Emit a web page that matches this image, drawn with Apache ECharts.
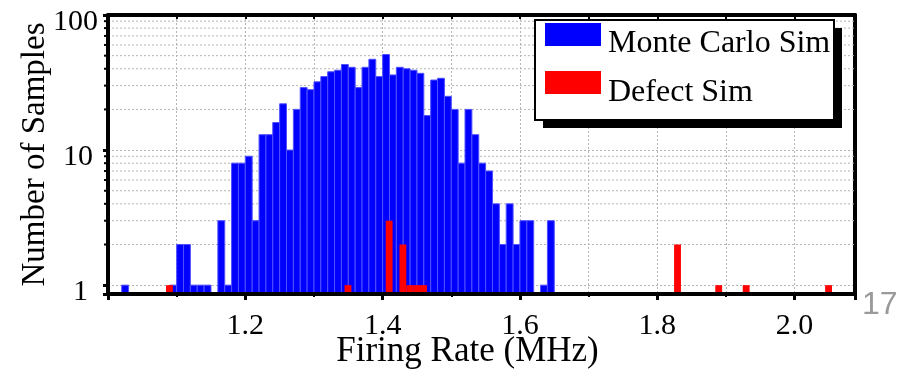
<!DOCTYPE html>
<html>
<head>
<meta charset="utf-8">
<script src="https://cdn.jsdelivr.net/npm/echarts@6/dist/echarts.min.js"></script>
<style>
  html, body { margin: 0; padding: 0; background: #fff; }
  #chart { width: 903px; height: 369px; }
</style>
</head>
<body>
<div id="chart"></div>
<script>
// histogram bins (left edge, MHz) and counts
const mcBins = [1.02, 1.09, 1.10, 1.11, 1.12, 1.13, 1.14, 1.16, 1.17, 1.18, 1.19,
  1.20, 1.21, 1.22, 1.23, 1.24, 1.25, 1.26, 1.27, 1.28, 1.29,
  1.30, 1.31, 1.32, 1.33, 1.34, 1.35, 1.36, 1.37, 1.38, 1.39,
  1.40, 1.41, 1.42, 1.43, 1.44, 1.45, 1.46, 1.47, 1.48, 1.49,
  1.50, 1.51, 1.52, 1.53, 1.54, 1.55, 1.56, 1.57, 1.58, 1.59,
  1.60, 1.61, 1.63, 1.64];
const mcCounts = [1, 1, 2, 2, 1, 1, 1, 3, 1, 8, 8,
  9, 3, 13, 13, 16, 22, 10, 20, 29, 28,
  32, 35, 38, 39, 43, 41, 29, 41, 47, 35,
  51, 36, 41, 40, 39, 37, 18, 33, 34, 25,
  20, 8, 20, 13, 8, 7, 4, 2, 4, 2,
  3, 3, 1, 3];
const defectBins = [1.0845, 1.3445, 1.4045, 1.4245, 1.4345, 1.4445, 1.4545, 1.8245, 1.8845, 1.9245, 2.0445];
const defectCounts = [1, 1, 3, 2, 1, 1, 1, 2, 1, 1, 1];
const seriesNames = ['Monte Carlo Sim', 'Defect Sim'];
const seriesColors = ['#0000ff', '#ff0000'];
const yLabels = [1, 10, 100];
const yMinorGrid = [2, 3, 4, 5, 6, 7, 8, 9, 20, 30, 40, 50, 60, 70, 80, 90];

const BIN = 0.01;
const X_MIN = 1.0, X_MAX = 2.088;
const Y_MIN = 0.86, Y_MAX = 100;
const SERIF = '"Liberation Serif", "Times New Roman", serif';

const chart = echarts.init(document.getElementById('chart'));

function histSeries(name, bins, counts, color, stroke) {
  return {
    name: name,
    type: 'custom',
    xAxisIndex: 0,
    yAxisIndex: 0,
    z: 2,
    clip: true,
    itemStyle: { color: color },
    encode: { x: 0, y: 1 },
    data: bins.map((b, i) => [b, counts[i]]),
    renderItem: (params, api) => {
      const x0 = api.value(0);
      const v = api.value(1);
      if (!(v > 0)) return null;
      const p0 = api.coord([x0, Y_MIN]);
      const p1 = api.coord([x0 + BIN, v]);
      return {
        type: 'rect',
        shape: { x: p0[0], y: p1[1], width: p1[0] - p0[0], height: p0[1] - p1[1] },
        style: { fill: color, stroke: stroke, lineWidth: stroke ? 1 : 0 }
      };
    }
  };
}

// boxed legend with a hard drop shadow, like the slide
const legendBox = { x: 534, y: 19, w: 299, h: 100, shadow: 8 };
const legendGraphic = {
  type: 'group',
  left: legendBox.x,
  top: legendBox.y,
  z: 100,
  children: [
    { type: 'rect', z: 100, shape: { x: legendBox.shadow, y: legendBox.shadow, width: legendBox.w, height: legendBox.h },
      style: { fill: '#000' } },
    { type: 'rect', z: 101, shape: { x: 0, y: 0, width: legendBox.w, height: legendBox.h },
      style: { fill: '#fff', stroke: '#000', lineWidth: 2 } }
  ].concat(seriesNames.flatMap((n, i) => [
    { type: 'rect', z: 102, shape: { x: 10, y: 3 + i * 48, width: 56, height: 23 },
      style: { fill: seriesColors[i] } },
    { type: 'text', z: 102, x: 73, y: 24 + i * 49,
      style: { text: n, fontFamily: SERIF, fontSize: 32, fill: '#000', verticalAlign: 'middle' } }
  ]))
};

const option = {
  backgroundColor: '#fff',
  animation: false,
  grid: { left: 108, right: 48, top: 15, bottom: 75, outerBoundsMode: 'none' },
  xAxis: [
    {
      type: 'value',
      position: 'bottom',
      min: X_MIN,
      max: X_MAX,
      interval: 0.2,
      z: 3,
      name: 'Firing Rate (MHz)',
      nameLocation: 'middle',
      nameGap: 40,
      nameMoveOverlap: false,
      nameTextStyle: { fontFamily: SERIF, fontSize: 35, color: '#000', padding: [0, 28, 0, 0] },
      axisLine: { show: true, lineStyle: { color: '#000', width: 4 } },
      axisTick: { show: true, inside: false, length: 6, lineStyle: { color: '#000', width: 3 } },
      minorTick: { show: true, splitNumber: 2, length: 3, lineStyle: { color: '#000', width: 2 } },
      axisLabel: {
        fontFamily: SERIF, fontSize: 30, color: '#000', margin: 17,
        formatter: v => {
          const k = v * 5;
          if (v < 1.1 || Math.abs(k - Math.round(k)) > 1e-6) return '';
          return v.toFixed(1);
        }
      },
      splitLine: { show: false }
    },
    {
      type: 'value',
      position: 'top',
      min: X_MIN,
      max: X_MAX,
      interval: 0.2,
      z: 0,
      axisLine: { show: true, lineStyle: { color: '#000', width: 4 } },
      axisTick: { show: true, inside: true, length: 4, lineStyle: { color: '#000', width: 2 } },
      minorTick: { show: true, splitNumber: 2, length: 4, lineStyle: { color: '#000', width: 2 } },
      axisLabel: { show: false },
      splitLine: { show: true, lineStyle: { color: '#b4b4b4', width: 1, type: [2, 2] } },
      minorSplitLine: { show: true, lineStyle: { color: '#b4b4b4', width: 1, type: [2, 2] } }
    }
  ],
  yAxis: [
    {
      type: 'log',
      logBase: 10,
      position: 'left',
      min: Y_MIN,
      max: Y_MAX,
      z: 3,
      name: 'Number of Samples',
      nameLocation: 'middle',
      nameGap: 56,
      nameMoveOverlap: false,
      nameTextStyle: { fontFamily: SERIF, fontSize: 33, color: '#000' },
      axisLine: { show: true, lineStyle: { color: '#000', width: 4 } },
      axisTick: { show: true, inside: false, length: 5, lineStyle: { color: '#000', width: 3 } },
      axisLabel: {
        margin: 10,
        formatter: v => {
          const r = Math.round(v);
          if (Math.abs(v - r) > 1e-6 || yLabels.indexOf(r) < 0) return '';
          return '{l' + r + '|' + r + '}';
        },
        rich: {
          l1: { fontFamily: SERIF, fontSize: 30, color: '#000', padding: [14, 10, 0, 0] },
          l10: { fontFamily: SERIF, fontSize: 30, color: '#000', padding: [14, 5, 0, 0] },
          l100: { fontFamily: SERIF, fontSize: 30, color: '#000', padding: [14, 0, 0, 0] }
        }
      },
      splitLine: { show: false }
    },
    {
      type: 'log',
      logBase: 10,
      position: 'right',
      min: Y_MIN,
      max: Y_MAX,
      z: 0,
      axisLine: { show: true, lineStyle: { color: '#000', width: 4 } },
      axisTick: { show: false },
      axisLabel: { show: false },
      splitLine: { show: true, lineStyle: { color: '#b4b4b4', width: 1, type: [2, 2] } }
    }
  ],
  graphic: [
    legendGraphic,
    {
      type: 'text',
      left: 862,
      top: 289,
      style: { text: '17', fontFamily: '"Liberation Sans", Arial, sans-serif', fontSize: 32, fill: '#9a9a9a' }
    }
  ],
  series: [
    {
      // minor log grid lines and spine ticks
      type: 'custom',
      xAxisIndex: 0,
      yAxisIndex: 0,
      z: 1,
      clip: false,
      silent: true,
      encode: { x: 0, y: 1 },
      data: yMinorGrid.map(v => [X_MIN, v]),
      renderItem: (params, api) => {
        const v = api.value(1);
        const a = api.coord([X_MIN, v]);
        const b = api.coord([X_MAX, v]);
        return {
          type: 'group',
          children: [
            { type: 'line', shape: { x1: a[0], y1: a[1], x2: b[0], y2: b[1] },
              style: { stroke: '#b4b4b4', lineWidth: 1, lineDash: [2, 2] } },
            { type: 'line', shape: { x1: a[0] - 4, y1: a[1], x2: a[0], y2: a[1] },
              style: { stroke: '#000', lineWidth: 2 } }
          ]
        };
      }
    },
    histSeries(seriesNames[0], mcBins, mcCounts, seriesColors[0], '#5050ff'),
    histSeries(seriesNames[1], defectBins, defectCounts, seriesColors[1], null)
  ]
};

chart.setOption(option);
</script>
</body>
</html>
